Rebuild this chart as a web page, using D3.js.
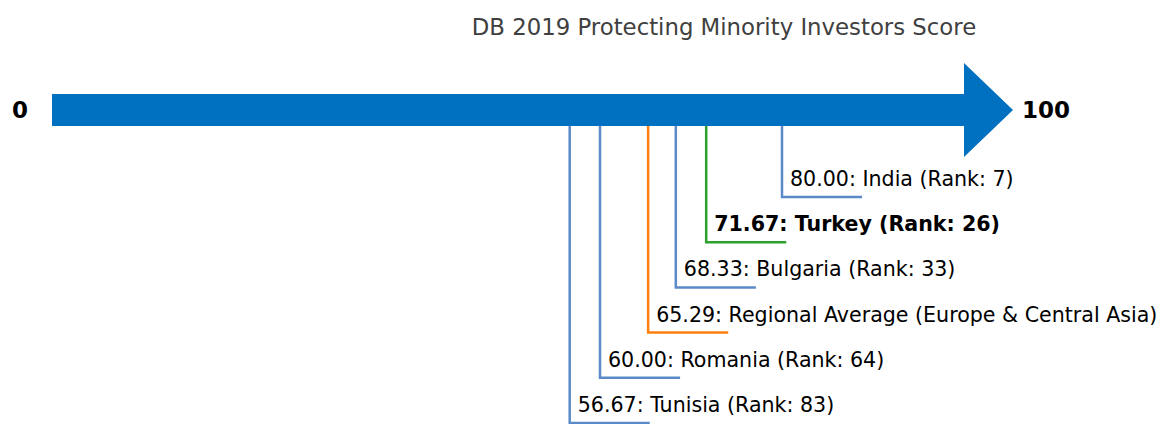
<!DOCTYPE html>
<html>
<head>
<meta charset="utf-8">
<script src="https://cdn.jsdelivr.net/npm/d3@7"></script>
<style>
  body { margin: 0; background: #fff; }
  text { font-family: "DejaVu Sans", sans-serif; }
</style>
</head>
<body>
<div id="plot"></div>
<script>
// Data
const names = ["India", "Turkey", "Bulgaria", "Regional Average (Europe & Central Asia)", "Romania", "Tunisia"];
const scores = [80.00, 71.67, 68.33, 65.29, 60.00, 56.67];
const ranks = [7, 26, 33, null, 64, 83];
const kinds = ["peer", "focus", "peer", "region", "peer", "peer"];

const width = 1167, height = 424;
const colors = { peer: "#5b8ac9", focus: "#2ca02c", region: "#ff7f0e" };

const svg = d3.select("div#plot").append("svg")
  .attr("width", width)
  .attr("height", height);

// score scale along the arrow
const x = d3.scaleLinear().domain([0, 100]).range([54, 964]);
// rows below the arrow
const y = d3.scalePoint().domain(d3.range(names.length)).range([197, 423]);

const arrowY = 110, shaftHalf = 16, headHalf = 47, headLen = 49;

// Title
svg.append("text")
  .attr("x", 724)
  .attr("y", 35)
  .attr("text-anchor", "middle")
  .attr("fill", "#404040")
  .style("font-size", "22.8px")
  .text("DB 2019 Protecting Minority Investors Score");

// Arrow
svg.append("path")
  .attr("d", `M${x(0) - 2},${arrowY - shaftHalf} L${x(100)},${arrowY - shaftHalf} L${x(100)},${arrowY - headHalf}
    L${x(100) + headLen},${arrowY} L${x(100)},${arrowY + headHalf} L${x(100)},${arrowY + shaftHalf}
    L${x(0) - 2},${arrowY + shaftHalf} Z`)
  .attr("fill", "#0070c0");

svg.append("text")
  .attr("x", 20)
  .attr("y", arrowY)
  .attr("dy", "0.36em")
  .attr("text-anchor", "middle")
  .style("font-size", "23px")
  .style("font-weight", "bold")
  .text("0");

svg.append("text")
  .attr("x", 1022)
  .attr("y", arrowY)
  .attr("dy", "0.36em")
  .style("font-size", "23px")
  .style("font-weight", "bold")
  .text("100");

// Leader lines and labels
const rows = svg.append("g").selectAll("g")
  .data(scores.map((s, i) => ({ s, i, name: names[i], rank: ranks[i], kind: kinds[i] })))
  .join("g");

rows.append("path")
  .attr("d", d => `M${x(d.s)},${arrowY + shaftHalf} V${y(d.i)} H${x(d.s + 8.8)}`)
  .attr("fill", "none")
  .attr("stroke", d => colors[d.kind])
  .attr("stroke-width", 2.5);

rows.append("text")
  .attr("x", d => x(d.s) + 8)
  .attr("y", d => y(d.i) - 11)
  .attr("fill", "#000")
  .style("font-size", "20.6px")
  .style("font-weight", d => d.kind === "focus" ? "bold" : "normal")
  .text(d => `${d.s.toFixed(2)}: ${d.name}` + (d.rank != null ? ` (Rank: ${d.rank})` : ""));
</script>
</body>
</html>
